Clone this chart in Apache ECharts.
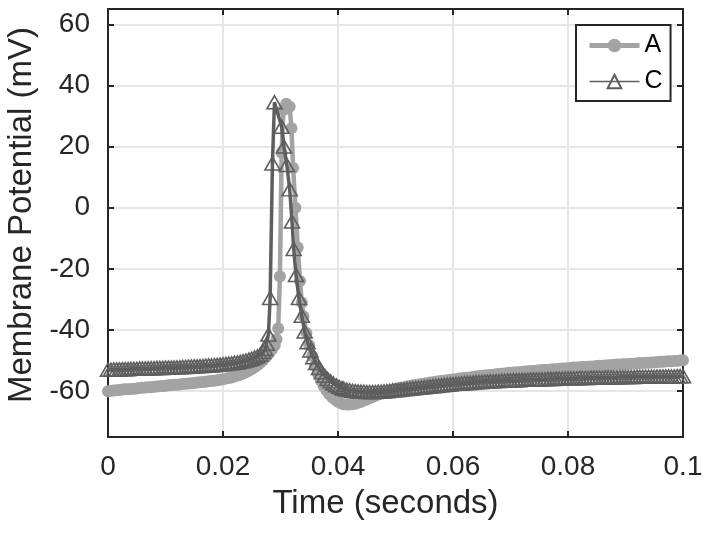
<!DOCTYPE html>
<html>
<head>
<meta charset="utf-8">
<script src="https://cdn.jsdelivr.net/npm/echarts@6/dist/echarts.min.js"></script>
<style>
html,body{margin:0;padding:0;background:#fff;}
#chart{width:704px;height:534px;}
</style>
</head>
<body>
<div id="chart"></div>
<script>
// ---- Data (time in ms, membrane potential in mV) ----
const timeA = [
  0,0.5,1,1.5,2,2.5,3,3.5,4,4.5,
  5,5.5,6,6.5,7,7.5,8,8.5,9,9.5,
  10,10.5,11,11.5,12,12.5,13,13.5,14,14.5,
  15,15.5,16,16.5,17,17.5,18,18.5,19,19.5,
  20,20.5,21,21.5,22,22.5,23,23.5,24,24.5,
  25,25.5,26,26.5,27,27.5,28,28.5,29,
  29.3,29.6,29.9,30.2,30.5,31.0,31.6,31.9,32.2,32.6,33.0,33.4,33.7,
  34,34.5,35,35.5,36,36.5,37,37.5,38,38.5,
  39,39.5,40,40.5,41,41.5,42,42.5,43,43.5,
  44,44.5,45,45.5,46,46.5,47,47.5,48,48.5,
  49,49.5,50,50.5,51,51.5,52,52.5,53,53.5,
  54,54.5,55,55.5,56,56.5,57,57.5,58,58.5,
  59,59.5,60,60.5,61,61.5,62,62.5,63,63.5,
  64,64.5,65,65.5,66,66.5,67,67.5,68,68.5,
  69,69.5,70,70.5,71,71.5,72,72.5,73,73.5,
  74,74.5,75,75.5,76,76.5,77,77.5,78,78.5,
  79,79.5,80,80.5,81,81.5,82,82.5,83,83.5,
  84,84.5,85,85.5,86,86.5,87,87.5,88,88.5,
  89,89.5,90,90.5,91,91.5,92,92.5,93,93.5,
  94,94.5,95,95.5,96,96.5,97,97.5,98,98.5,
  99,99.5,100
];
const voltA = [
  -60.0,-59.9,-59.8,-59.7,-59.6,-59.5,-59.4,-59.4,-59.3,-59.2,
  -59.1,-59.0,-58.9,-58.8,-58.7,-58.7,-58.6,-58.5,-58.4,-58.3,
  -58.2,-58.1,-58.0,-57.9,-57.9,-57.8,-57.7,-57.6,-57.5,-57.4,
  -57.3,-57.2,-57.1,-57.0,-56.9,-56.8,-56.7,-56.6,-56.4,-56.3,
  -56.1,-55.9,-55.7,-55.5,-55.2,-54.9,-54.6,-54.2,-53.8,-53.3,
  -52.8,-52.2,-51.5,-50.7,-49.8,-48.8,-47.7,-46.4,-45.0,
  -43.0,-39.5,-22.5,18,32,34,33,26,13,0,-13,-24,-31,
  -35.5,-41.0,-45.0,-48.5,-51.7,-54.3,-56.5,-58.3,-59.8,-61.0,
  -62.0,-62.8,-63.5,-64.0,-64.3,-64.4,-64.4,-64.3,-64.1,-63.8,
  -63.5,-63.1,-62.7,-62.3,-61.9,-61.5,-61.1,-60.7,-60.4,-60.1,
  -59.8,-59.6,-59.3,-59.1,-58.9,-58.7,-58.5,-58.3,-58.1,-58.0,
  -57.8,-57.7,-57.5,-57.4,-57.2,-57.1,-56.9,-56.8,-56.7,-56.6,
  -56.4,-56.3,-56.2,-56.1,-55.9,-55.8,-55.7,-55.6,-55.5,-55.4,
  -55.2,-55.1,-55.0,-54.9,-54.8,-54.7,-54.6,-54.5,-54.4,-54.3,
  -54.2,-54.1,-54.0,-53.9,-53.8,-53.8,-53.7,-53.6,-53.5,-53.4,
  -53.4,-53.3,-53.2,-53.1,-53.1,-53.0,-52.9,-52.8,-52.8,-52.7,
  -52.6,-52.6,-52.5,-52.4,-52.3,-52.3,-52.2,-52.1,-52.1,-52.0,
  -51.9,-51.9,-51.8,-51.7,-51.7,-51.6,-51.5,-51.5,-51.4,-51.3,
  -51.3,-51.2,-51.2,-51.1,-51.0,-51.0,-50.9,-50.8,-50.8,-50.7,
  -50.7,-50.6,-50.6,-50.5,-50.4,-50.4,-50.3,-50.2,-50.2,-50.1,
  -50.1,-50.0,-49.9
];
const timeC = [
  0,0.5,1,1.5,2,2.5,3,3.5,4,4.5,
  5,5.5,6,6.5,7,7.5,8,8.5,9,9.5,
  10,10.5,11,11.5,12,12.5,13,13.5,14,14.5,
  15,15.5,16,16.5,17,17.5,18,18.5,19,19.5,
  20,20.5,21,21.5,22,22.5,23,23.5,24,24.5,
  25,25.5,26,26.5,27,
  27.3,27.6,27.9,28.2,28.6,28.95,30.2,30.6,31.1,31.6,32.0,32.3,32.7,33.2,33.7,
  34.2,34.7,35.2,35.7,36.2,36.7,37.2,37.7,38.2,38.7,39.2,39.7,40.2,40.7,
  41,41.5,42,42.5,43,43.5,44,44.5,45,45.5,
  46,46.5,47,47.5,48,48.5,49,49.5,50,50.5,
  51,51.5,52,52.5,53,53.5,54,54.5,55,55.5,
  56,56.5,57,57.5,58,58.5,59,59.5,60,60.5,
  61,61.5,62,62.5,63,63.5,64,64.5,65,65.5,
  66,66.5,67,67.5,68,68.5,69,69.5,70,70.5,
  71,71.5,72,72.5,73,73.5,74,74.5,75,75.5,
  76,76.5,77,77.5,78,78.5,79,79.5,80,80.5,
  81,81.5,82,82.5,83,83.5,84,84.5,85,85.5,
  86,86.5,87,87.5,88,88.5,89,89.5,90,90.5,
  91,91.5,92,92.5,93,93.5,94,94.5,95,95.5,
  96,96.5,97,97.5,98,98.5,99,99.5,100
];
const voltC = [
  -53.0,-53.0,-52.9,-52.9,-52.9,-52.8,-52.8,-52.8,-52.7,-52.7,
  -52.7,-52.6,-52.6,-52.6,-52.5,-52.5,-52.5,-52.4,-52.4,-52.4,
  -52.3,-52.3,-52.3,-52.2,-52.2,-52.2,-52.1,-52.1,-52.0,-52.0,
  -51.9,-51.9,-51.8,-51.8,-51.7,-51.6,-51.6,-51.5,-51.4,-51.3,
  -51.2,-51.1,-51.0,-50.9,-50.7,-50.6,-50.4,-50.2,-50.0,-49.7,
  -49.4,-49.0,-48.6,-48.0,-47.2,
  -46.2,-44.5,-41.5,-29.5,14.5,34.5,26.5,20,14,6,-4.5,-13.5,-22,-29.5,-35.3,
  -40.5,-44.0,-46.7,-48.9,-50.8,-52.4,-53.8,-55.0,-56.0,-56.8,-57.5,-58.1,-58.6,-59.0,
  -59.2,-59.5,-59.7,-59.9,-60.0,-60.1,-60.2,-60.2,-60.3,-60.3,
  -60.3,-60.3,-60.2,-60.2,-60.1,-60.0,-59.9,-59.8,-59.7,-59.6,
  -59.5,-59.4,-59.3,-59.2,-59.1,-59.0,-58.9,-58.8,-58.7,-58.6,
  -58.5,-58.4,-58.3,-58.2,-58.1,-58.0,-57.9,-57.8,-57.7,-57.6,
  -57.6,-57.5,-57.4,-57.3,-57.3,-57.2,-57.1,-57.0,-57.0,-56.9,
  -56.9,-56.8,-56.8,-56.7,-56.7,-56.6,-56.6,-56.5,-56.5,-56.4,
  -56.4,-56.4,-56.3,-56.3,-56.3,-56.2,-56.2,-56.2,-56.1,-56.1,
  -56.1,-56.0,-56.0,-56.0,-55.9,-55.9,-55.9,-55.9,-55.8,-55.8,
  -55.8,-55.8,-55.7,-55.7,-55.7,-55.7,-55.6,-55.6,-55.6,-55.6,
  -55.6,-55.5,-55.5,-55.5,-55.5,-55.5,-55.4,-55.4,-55.4,-55.4,
  -55.4,-55.4,-55.3,-55.3,-55.3,-55.3,-55.3,-55.3,-55.3,-55.2,
  -55.2,-55.2,-55.2,-55.2,-55.2,-55.2,-55.1,-55.1,-55.1
];
const yTicks = [-60, -40, -20, 0, 20, 40, 60];
const seriesNames = ['A', 'C'];

// ---- Build ----
function zip(times, volts) {
  return times.map(function (t, i) { return [t / 1000, volts[i]]; });
}
const dataA = zip(timeA, voltA);
const dataC = zip(timeC, voltC);

const FONT = '"Liberation Sans", Arial, Helvetica, sans-serif';
const AXIS_COLOR = '#262626';
const GRID_COLOR = '#e6e6e6';
const COLOR_A = '#a3a3a3';
const COLOR_C = '#5e5e5e';

const frameLine = { show: true, onZero: false, lineStyle: { color: AXIS_COLOR, width: 2 } };
const frameTick = { show: true, inside: true, length: 6, lineStyle: { color: AXIS_COLOR, width: 2 } };

const chart = echarts.init(document.getElementById('chart'), null, { renderer: 'canvas' });
chart.setOption({
  animation: false,
  backgroundColor: '#ffffff',
  grid: { left: 108, top: 9, right: 21, bottom: 97, containLabel: false, outerBoundsMode: 'none' },
  xAxis: [
    {
      type: 'value', min: 0, max: 0.1, interval: 0.02, position: 'bottom',
      axisLine: frameLine, axisTick: frameTick,
      axisLabel: { color: AXIS_COLOR, fontSize: 28, fontFamily: FONT, margin: 16 },
      splitLine: { show: true, lineStyle: { color: GRID_COLOR, width: 2 } },
      name: 'Time (seconds)', nameLocation: 'middle', nameGap: 50,
      nameTextStyle: { color: AXIS_COLOR, fontSize: 33, fontFamily: FONT, padding: [0, 20, 0, 0] }
    },
    {
      type: 'value', min: 0, max: 0.1, interval: 0.02, position: 'top',
      axisLine: frameLine, axisTick: frameTick,
      axisLabel: { show: false }, splitLine: { show: false }
    }
  ],
  yAxis: [
    {
      type: 'value', min: -75, max: 65, position: 'left',
      axisLine: frameLine,
      axisTick: Object.assign({}, frameTick, { customValues: yTicks }),
      axisLabel: { color: AXIS_COLOR, fontSize: 28, fontFamily: FONT, margin: 18, customValues: yTicks },
      splitLine: { show: true, lineStyle: { color: GRID_COLOR, width: 2 } },
      name: 'Membrane Potential (mV)', nameLocation: 'middle', nameGap: 68,
      nameTextStyle: { color: AXIS_COLOR, fontSize: 33, fontFamily: FONT, padding: [0, 0, 0, 16] }
    },
    {
      type: 'value', min: -75, max: 65, position: 'right',
      axisLine: frameLine,
      axisTick: Object.assign({}, frameTick, { customValues: yTicks }),
      axisLabel: { show: false, customValues: yTicks }, splitLine: { show: false }
    }
  ],
  legend: {
    orient: 'vertical', left: 576, top: 25,
    data: [
      { name: seriesNames[0], lineStyle: { width: 5 } },
      { name: seriesNames[1], lineStyle: { width: 1.5 } }
    ],
    itemWidth: 50, itemHeight: 17, itemGap: 11,
    padding: [8, 8, 7, 11],
    backgroundColor: '#ffffff', borderColor: AXIS_COLOR, borderWidth: 2, borderRadius: 0,
    textStyle: { fontSize: 25, color: '#000000', fontFamily: FONT },
    selectedMode: false
  },
  series: [
    {
      name: seriesNames[0], type: 'line', data: dataA, xAxisIndex: 0, yAxisIndex: 0,
      symbol: 'circle', symbolSize: 12, showAllSymbol: true, clip: false,
      lineStyle: { color: COLOR_A, width: 4.5 },
      itemStyle: { color: COLOR_A },
      emphasis: { disabled: true }, z: 2
    },
    {
      name: seriesNames[1], type: 'line', data: dataC, xAxisIndex: 0, yAxisIndex: 0,
      symbol: 'triangle', symbolSize: [15, 13], showAllSymbol: true, clip: false,
      lineStyle: { color: COLOR_C, width: 3.5 },
      itemStyle: { color: 'rgba(255,255,255,0)', borderColor: COLOR_C, borderWidth: 1.6 },
      emphasis: { disabled: true }, z: 3
    }
  ]
});
</script>
</body>
</html>
